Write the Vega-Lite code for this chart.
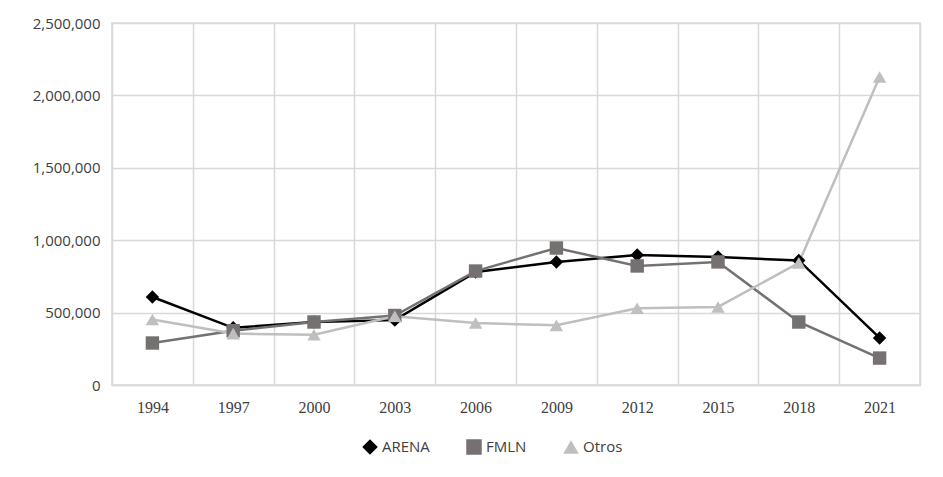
{
  "$schema": "https://vega.github.io/schema/vega-lite/v6.json",
  "width": 808,
  "height": 362,
  "autosize": {"type": "none"},
  "padding": {"left": 112, "top": 23, "right": 23, "bottom": 92},
  "background": "white",
  "config": {
    "view": {"stroke": "#d9d9d9", "strokeWidth": 1.5},
    "axis": {"gridColor": "#d9d9d9", "gridWidth": 1.5}
  },
  "data": {
    "values": [
      {"year": "1994", "party": "ARENA", "votes": 608000},
      {"year": "1997", "party": "ARENA", "votes": 395000},
      {"year": "2000", "party": "ARENA", "votes": 435000},
      {"year": "2003", "party": "ARENA", "votes": 448000},
      {"year": "2006", "party": "ARENA", "votes": 780000},
      {"year": "2009", "party": "ARENA", "votes": 850000},
      {"year": "2012", "party": "ARENA", "votes": 898000},
      {"year": "2015", "party": "ARENA", "votes": 884000},
      {"year": "2018", "party": "ARENA", "votes": 860000},
      {"year": "2021", "party": "ARENA", "votes": 325000},
      {"year": "1994", "party": "FMLN", "votes": 290000},
      {"year": "1997", "party": "FMLN", "votes": 375000},
      {"year": "2000", "party": "FMLN", "votes": 435000},
      {"year": "2003", "party": "FMLN", "votes": 480000},
      {"year": "2006", "party": "FMLN", "votes": 787000},
      {"year": "2009", "party": "FMLN", "votes": 946000},
      {"year": "2012", "party": "FMLN", "votes": 822000},
      {"year": "2015", "party": "FMLN", "votes": 850000},
      {"year": "2018", "party": "FMLN", "votes": 435000},
      {"year": "2021", "party": "FMLN", "votes": 186000},
      {"year": "1994", "party": "Otros", "votes": 452000},
      {"year": "1997", "party": "Otros", "votes": 355000},
      {"year": "2000", "party": "Otros", "votes": 347000},
      {"year": "2003", "party": "Otros", "votes": 475000},
      {"year": "2006", "party": "Otros", "votes": 428000},
      {"year": "2009", "party": "Otros", "votes": 412000},
      {"year": "2012", "party": "Otros", "votes": 530000},
      {"year": "2015", "party": "Otros", "votes": 539000},
      {"year": "2018", "party": "Otros", "votes": 843000},
      {"year": "2021", "party": "Otros", "votes": 2127000}
    ]
  },
  "encoding": {
    "x": {
      "field": "year", "type": "ordinal",
      "scale": {"type": "band", "paddingInner": 0, "paddingOuter": 0},
      "axis": {
        "title": null, "labelAngle": 0, "ticks": false, "tickBand": "extent",
        "grid": true, "domain": true, "domainColor": "#d9d9d9", "domainWidth": 1.5,
        "labelFont": "Liberation Serif", "labelFontSize": 16, "labelColor": "#404040",
        "labelPadding": 14
      }
    },
    "y": {
      "field": "votes", "type": "quantitative",
      "scale": {"domain": [0, 2500000], "nice": false},
      "axis": {
        "title": null, "values": [0, 500000, 1000000, 1500000, 2000000, 2500000],
        "format": ",d", "ticks": false, "domain": false, "grid": true,
        "labelFont": "Open Sans", "labelFontSize": 15, "labelColor": "#404040",
        "labelPadding": 12
      }
    },
    "color": {
      "field": "party", "type": "nominal",
      "scale": {"domain": ["ARENA", "FMLN", "Otros"], "range": ["#000000", "#767171", "#bfbfbf"]},
      "legend": {
        "title": null, "orient": "none", "direction": "horizontal",
        "legendX": 250, "legendY": 416, "labelFont": "Open Sans", "labelFontSize": 15,
        "labelColor": "#404040", "symbolSize": 240, "symbolStrokeWidth": 0,
        "columnPadding": 36, "labelOffset": 4
      }
    },
    "shape": {
      "field": "party", "type": "nominal",
      "scale": {"domain": ["ARENA", "FMLN", "Otros"], "range": ["diamond", "square", "triangle-up"]},
      "legend": null
    }
  },
  "layer": [
    {"mark": {"type": "line", "strokeWidth": 2.5}},
    {"mark": {"type": "point", "filled": true, "size": 180, "opacity": 1}}
  ]
}
